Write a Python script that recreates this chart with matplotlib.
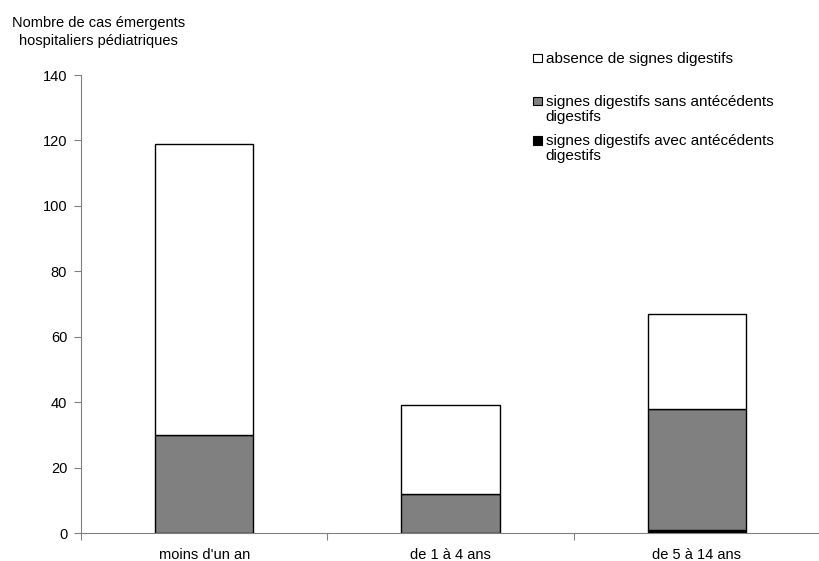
import matplotlib.pyplot as plt
from matplotlib.patches import Rectangle

plt.rcParams['font.family'] = ['Liberation Sans', 'DejaVu Sans']

categories = ["moins d'un an", "de 1 à 4 ans", "de 5 à 14 ans"]
avec_antecedents = [0, 0, 1]
sans_antecedents = [30, 12, 37]
absence = [89, 27, 29]
series_labels = ["absence de signes digestifs",
                 "signes digestifs sans antécédents\ndigestifs",
                 "signes digestifs avec antécédents\ndigestifs"]
series_colors = ["white", "#808080", "black"]

fig = plt.figure(figsize=(8.2, 5.61), dpi=100)
ax = fig.add_axes([0.0988, 0.0499, 0.9012, 0.8164])

x = list(range(len(categories)))
bottom2 = [a + b for a, b in zip(avec_antecedents, sans_antecedents)]
ax.bar(x, avec_antecedents, width=0.4, color="black", edgecolor="black", linewidth=1)
ax.bar(x, sans_antecedents, width=0.4, bottom=avec_antecedents, color="#808080",
       edgecolor="black", linewidth=1)
ax.bar(x, absence, width=0.4, bottom=bottom2, color="white", edgecolor="black", linewidth=1)

ax.set_xlim(-0.5, len(categories) - 0.5)
ax.set_ylim(0, 140)
ax.set_yticks(range(0, 141, 20))
ax.set_xticks([i - 0.5 for i in range(len(categories) + 1)])
ax.set_xticklabels([])
ax.set_xticks(x, minor=True)
ax.set_xticklabels(categories, minor=True)
ax.tick_params(axis='x', which='minor', length=0, pad=11, labelsize=10.5)
ax.tick_params(axis='x', which='major', length=5, color='#808080', direction='out')
ax.tick_params(axis='y', length=5, color='#808080', labelsize=10.5, pad=5)
for s in ['top', 'right']:
    ax.spines[s].set_visible(False)
for s in ['left', 'bottom']:
    ax.spines[s].set_color('#808080')

fig.text(0.120, 0.943, "Nombre de cas émergents\nhospitaliers pédiatriques",
         ha='center', va='center', fontsize=10.5, linespacing=1.35)

# légende
square_y = [0.8966, 0.82, 0.7504]
text_top = [0.907, 0.8305, 0.761]
for lab, col, sy, ty in zip(series_labels, series_colors, square_y, text_top):
    fig.patches.append(Rectangle((0.6505, sy - 0.008), 0.0105, 0.0155, transform=fig.transFigure,
                                 facecolor=col, edgecolor='black', linewidth=0.8))
    fig.text(0.6655, ty, lab, ha='left', va='top', fontsize=11, linespacing=1.1)

fig.savefig("out.png", dpi=100)
